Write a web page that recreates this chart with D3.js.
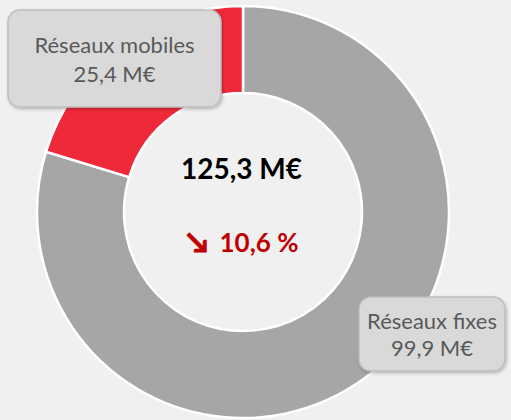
<!DOCTYPE html>
<html><head><meta charset="utf-8">
<script src="https://cdn.jsdelivr.net/npm/d3@7"></script>
<style>html,body{margin:0;padding:0;background:#f0f0f0;}svg{display:block;}</style>
</head><body>
<svg id="chart" width="511" height="420"></svg>
<script>
const categories = ["Réseaux fixes", "Réseaux mobiles"];
const values = [99.9, 25.4];
const valueLabels = ["99,9 M€", "25,4 M€"];
const totalLabel = "125,3 M€";
const changeLabel = "10,6 %";
const colors = ["#a6a6a6", "#ee2939"];

const svg = d3.select("#chart");
svg.append("rect").attr("width", 511).attr("height", 420).attr("fill", "#f0f0f0");

const cx = 243, cy = 212, R = 206, r = 119;
const pie = d3.pie().sort(null).value(d => d)(values);
const arc = d3.arc().innerRadius(r).outerRadius(R);
const g = svg.append("g").attr("transform", `translate(${cx},${cy})`);
g.selectAll("path").data(pie).join("path")
  .attr("d", arc).attr("fill", (d, i) => colors[i])
  .attr("stroke", "#ffffff").attr("stroke-width", 2.5).attr("stroke-linejoin", "round");

const font = "Lato, 'Open Sans', sans-serif";
g.append("text").attr("x", -1.5).attr("y", -33).attr("text-anchor", "middle")
  .attr("font-family", font).attr("font-weight", "bold").attr("font-size", 28)
  .attr("fill", "#000").text(totalLabel);
const ch = g.append("text").attr("x", -0.5).attr("y", 40).attr("text-anchor", "middle")
  .attr("font-family", font).attr("font-weight", "bold").attr("font-size", 26)
  .attr("fill", "#c00000");
ch.append("tspan").attr("font-size", 28).attr("stroke", "#c00000").attr("stroke-width", 1.2).text("↘");
ch.append("tspan").attr("dx", 12).text(changeLabel);

const boxes = [
  {x: 359, y: 297, w: 146, h: 74, i: 0, o1: -5.5, o2: 21.5},
  {x: 8, y: 10, w: 213, h: 97, i: 1, o1: -5.5, o2: 23.5}
];
const defs = svg.append("defs");
const f = defs.append("filter").attr("id", "sh").attr("x", "-10%").attr("y", "-10%").attr("width", "130%").attr("height", "130%");
f.append("feDropShadow").attr("dx", 1).attr("dy", 1.5).attr("stdDeviation", 1.5).attr("flood-color", "#000").attr("flood-opacity", 0.25);
boxes.forEach(b => {
  svg.append("rect").attr("x", b.x).attr("y", b.y).attr("width", b.w).attr("height", b.h)
    .attr("rx", 12).attr("fill", "#d9d9d9").attr("stroke", "#bdbdbd").attr("stroke-width", 1.5)
    .attr("filter", "url(#sh)");
  const t = svg.append("text").attr("text-anchor", "middle").attr("font-family", font)
    .attr("font-size", 22).attr("fill", "#595959");
  const mx = b.x + b.w / 2, my = b.y + b.h / 2;
  t.append("tspan").attr("x", mx).attr("y", my + b.o1).text(categories[b.i]);
  t.append("tspan").attr("x", mx).attr("y", my + b.o2).text(valueLabels[b.i]);
});
</script>
</body></html>
